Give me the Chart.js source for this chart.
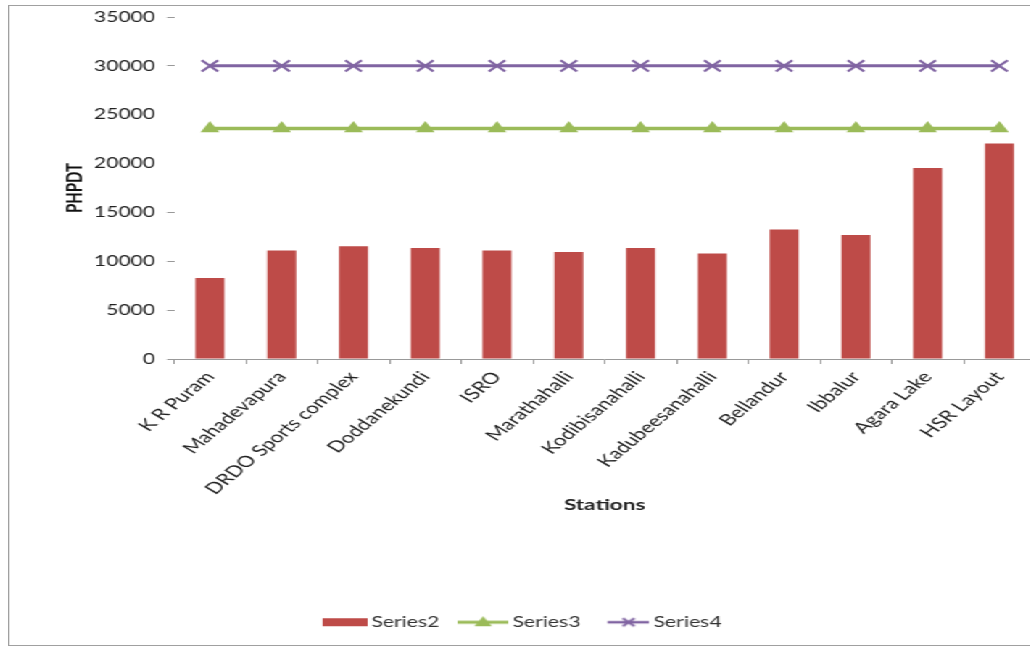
<!DOCTYPE html>
<html>
<head>
<meta charset="utf-8">
<title>PHPDT by station</title>
<script src="https://cdn.jsdelivr.net/npm/chart.js@4.4.1/dist/chart.umd.min.js"></script>
<style>
  html, body { margin: 0; padding: 0; background: #fff; overflow: hidden; }
  /* the whole chart is drawn narrow and stretched sideways */
  #frame {
    position: absolute;
    left: 8px;
    top: 5px;
    width: 720px;
    height: 639px;
    border: 1px solid #a0a0a0;
    transform: scaleX(1.45);
    transform-origin: 0 0;
  }
</style>
</head>
<body>
<div id="frame"><canvas id="myChart"></canvas></div>
<script>
var stations = ["K R Puram", "Mahadevapura", "DRDO Sports complex", "Doddanekundi", "ISRO", "Marathahalli",
    "Kodibisanahalli", "Kadubeesanahalli", "Bellandur", "Ibbalur", "Agara Lake", "HSR Layout"];
var series2 = [8300, 11100, 11550, 11350, 11100, 10950, 11350, 10800, 13250, 12700, 19550, 22050];
var series3 = [23600, 23600, 23600, 23600, 23600, 23600, 23600, 23600, 23600, 23600, 23600, 23600];
var series4 = [30000, 30000, 30000, 30000, 30000, 30000, 30000, 30000, 30000, 30000, 30000, 30000];
var yTicks = [0, 5000, 10000, 15000, 20000, 25000, 30000, 35000];

var RED = '#BE4B48', GREEN = '#9BBB59', PURPLE = '#8064A2';
var FONT = 'Lato, "Open Sans", sans-serif';

// legend swatches: bar block, line with triangle, line with cross
function legendIcon(kind) {
    var c = document.createElement('canvas');
    c.width = 35;
    c.height = 16;
    var g = c.getContext('2d');
    if (kind == 'bar') {
        g.fillStyle = RED;
        g.fillRect(4, 4, 31, 8);
    } else if (kind == 'tri') {
        g.strokeStyle = GREEN;
        g.lineWidth = 3;
        g.beginPath(); g.moveTo(0, 8); g.lineTo(35, 8); g.stroke();
        g.fillStyle = GREEN;
        g.beginPath(); g.moveTo(17.5, 2); g.lineTo(23.5, 12); g.lineTo(11.5, 12); g.closePath(); g.fill();
    } else {
        g.strokeStyle = PURPLE;
        g.lineWidth = 2.5;
        g.beginPath(); g.moveTo(6, 8); g.lineTo(35, 8); g.stroke();
        g.lineWidth = 2;
        g.beginPath();
        g.moveTo(16.5, 4); g.lineTo(24.5, 12);
        g.moveTo(24.5, 4); g.lineTo(16.5, 12);
        g.stroke();
    }
    return c;
}
var icons = [legendIcon('bar'), legendIcon('tri'), legendIcon('cross')];

var ctx = document.getElementById("myChart").getContext('2d');
var myChart = new Chart(ctx, {
    type: 'bar',
    data: {
        labels: stations,
        datasets: [
            {
                label: 'Series2',
                data: series2,
                backgroundColor: RED,
                categoryPercentage: 0.8,
                barPercentage: 0.505
            },
            {
                label: 'Series3',
                type: 'line',
                data: series3,
                borderColor: GREEN,
                backgroundColor: GREEN,
                borderWidth: 3.5,
                pointStyle: 'triangle',
                pointRadius: 7.5,
                pointBorderWidth: 0,
                pointBackgroundColor: GREEN,
                fill: false,
                tension: 0
            },
            {
                label: 'Series4',
                type: 'line',
                data: series4,
                borderColor: PURPLE,
                backgroundColor: PURPLE,
                borderWidth: 3,
                pointStyle: 'crossRot',
                pointRadius: 8,
                pointBorderWidth: 2,
                pointBorderColor: PURPLE,
                fill: false,
                tension: 0
            }
        ]
    },
    options: {
        responsive: true,
        maintainAspectRatio: false,
        animation: false,
        layout: { padding: { left: 0, top: 11, right: 12.5, bottom: 5.5 } },
        plugins: {
            tooltip: { enabled: false },
            legend: {
                position: 'bottom',
                labels: {
                    usePointStyle: true,
                    pointStyleWidth: 26,
                    padding: 17.1,
                    color: '#333',
                    font: { family: FONT, size: 14.6 },
                    generateLabels: function (chart) {
                        var items = Chart.defaults.plugins.legend.labels.generateLabels(chart);
                        items.forEach(function (it, i) { it.pointStyle = icons[i]; });
                        return items;
                    }
                }
            }
        },
        scales: {
            x: {
                offset: true,
                grid: { drawOnChartArea: false, color: '#999', tickLength: 5 },
                border: { display: true, color: '#999' },
                ticks: {
                    autoSkip: false,
                    minRotation: 50,
                    maxRotation: 50,
                    padding: 4,
                    color: '#222',
                    font: { family: FONT, size: 15.5 }
                },
                title: {
                    display: true,
                    text: 'Stations',
                    color: '#222',
                    font: { family: FONT, size: 15.5, weight: 'bold' },
                    padding: { top: 0, bottom: 83.5 }
                },
                afterFit: function (scale) { scale.height = 238.8; }
            },
            y: {
                min: 0,
                max: 35000,
                grid: {
                    drawOnChartArea: false,
                    tickLength: 4.8,
                    tickColor: function (c) {
                        return (c.tick && (c.tick.value == 20000 || c.tick.value == 25000)) ? 'rgba(0,0,0,0)' : '#999';
                    }
                },
                border: { display: false },
                afterBuildTicks: function (scale) {
                    scale.ticks = yTicks.map(function (v) { return { value: v }; });
                },
                ticks: {
                    padding: 8.3,
                    color: '#222',
                    font: { family: FONT, size: 14.5 },
                    callback: function (v) { return String(v); }
                },
                title: {
                    display: true,
                    text: 'PHPDT',
                    color: '#111',
                    font: { family: FONT, size: 15, weight: 'bold' },
                    padding: { top: 36, bottom: 0 }
                },
                afterFit: function (scale) {
                    scale.width = 113.5;
                    // top label may sit in the layout padding
                    scale.paddingTop = 0;
                    scale.paddingBottom = 0;
                }
            }
        }
    }
});
</script>
</body>
</html>
